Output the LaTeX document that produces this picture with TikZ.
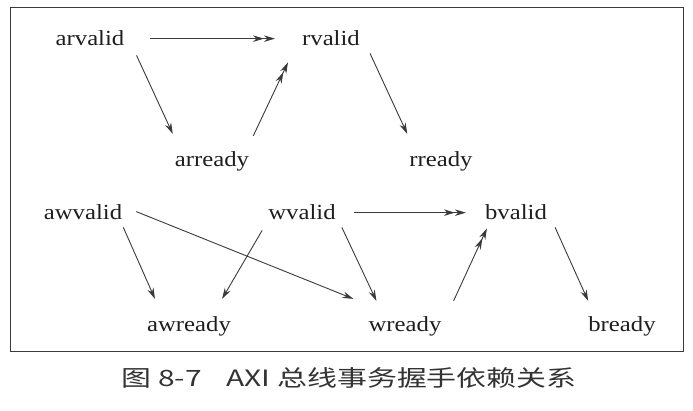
\documentclass[tikz,border=0pt]{standalone}
\usepackage{fontspec}
\setmainfont[FakeStretch=1.15]{Liberation Serif}
\newfontfamily\capfont[FakeStretch=1.33]{Noto Sans CJK SC}
\usepackage{tikz}
\usetikzlibrary{arrows.meta, positioning}
\definecolor{sigtext}{HTML}{1E1E1E}
\definecolor{sigline}{HTML}{3A3A3A}
\definecolor{capgray}{HTML}{333333}

\begin{document}
\begin{tikzpicture}[x=1pt, y=1pt,
    sig/.style={font=\fontsize{21.5}{24}\selectfont, text=sigtext, inner sep=0pt, anchor=base},
    dep/.style={draw=sigline, line width=0.9pt, -{Stealth[length=11pt, width=6.5pt]}},
    dep2/.style={draw=sigline, line width=0.9pt,
      -{Stealth[length=11pt, width=6.5pt]Stealth[length=11pt, width=6.5pt]}}]

  \useasboundingbox (0,0) rectangle (693,411);

  %% frame
  \draw[sigline, line width=1pt] (10,59) rectangle (683,403);

  %% read channel
  \node[sig] (arvalid) at (90,365) {arvalid};
  \node[sig] (rvalid)  at (331,365) {rvalid};
  \node[sig] (arready) at (212,244) {arready};
  \node[sig] (rready)  at (441,244) {rready};

  %% write channel
  \node[sig] (awvalid) at (83,191) {awvalid};
  \node[sig] (wvalid)  at (302,191) {wvalid};
  \node[sig] (bvalid)  at (516,191) {bvalid};
  \node[sig] (awready) at (189,79) {awready};
  \node[sig] (wready)  at (405,79) {wready};
  \node[sig] (bready)  at (622,79) {bready};

  %% read dependencies
  \draw[dep2] ([xshift=25pt]arvalid.east) -- ([xshift=-27pt]rvalid.west);
  \draw[dep] ([shift={(12,-9)}]arvalid.south east) -- ([shift={(-2,18)}]arready.north west);
  \draw[dep2] ([shift={(4,16)}]arready.north east) -- ([shift={(-14,-16)}]rvalid.south west);
  \draw[dep] ([shift={(10,-7)}]rvalid.south east) -- ([shift={(-2,18)}]rready.north west);

  %% write dependencies
  \draw[dep] ([shift={(1,-7)}]awvalid.south east) -- ([shift={(8,18)}]awready.north west);
  \draw[dep] ([shift={(14,1)}]awvalid.east) -- ([shift={(-15,18)}]wready.north west);
  \draw[dep] ([shift={(-6,-10)}]wvalid.south west) -- ([shift={(-9,18)}]awready.north east);
  \draw[dep] ([shift={(6,-7)}]wvalid.south east) -- ([shift={(8,16)}]wready.north west);
  \draw[dep2] ([xshift=18pt]wvalid.east) -- ([xshift=-19pt]bvalid.west);
  \draw[dep2] ([shift={(12,16)}]wready.north east) -- ([shift={(2,-8)}]bvalid.south west);
  \draw[dep] ([shift={(8,-7)}]bvalid.south east) -- ([shift={(0,16)}]bready.north west);

  %% caption
  \node[font=\capfont\fontsize{22.5}{25}\selectfont, text=capgray, inner sep=0pt, anchor=base]
    (caption) at (349,24) {图 8-7\hspace{1.1em}AXI 总线事务握手依赖关系};

\end{tikzpicture}
\end{document}
